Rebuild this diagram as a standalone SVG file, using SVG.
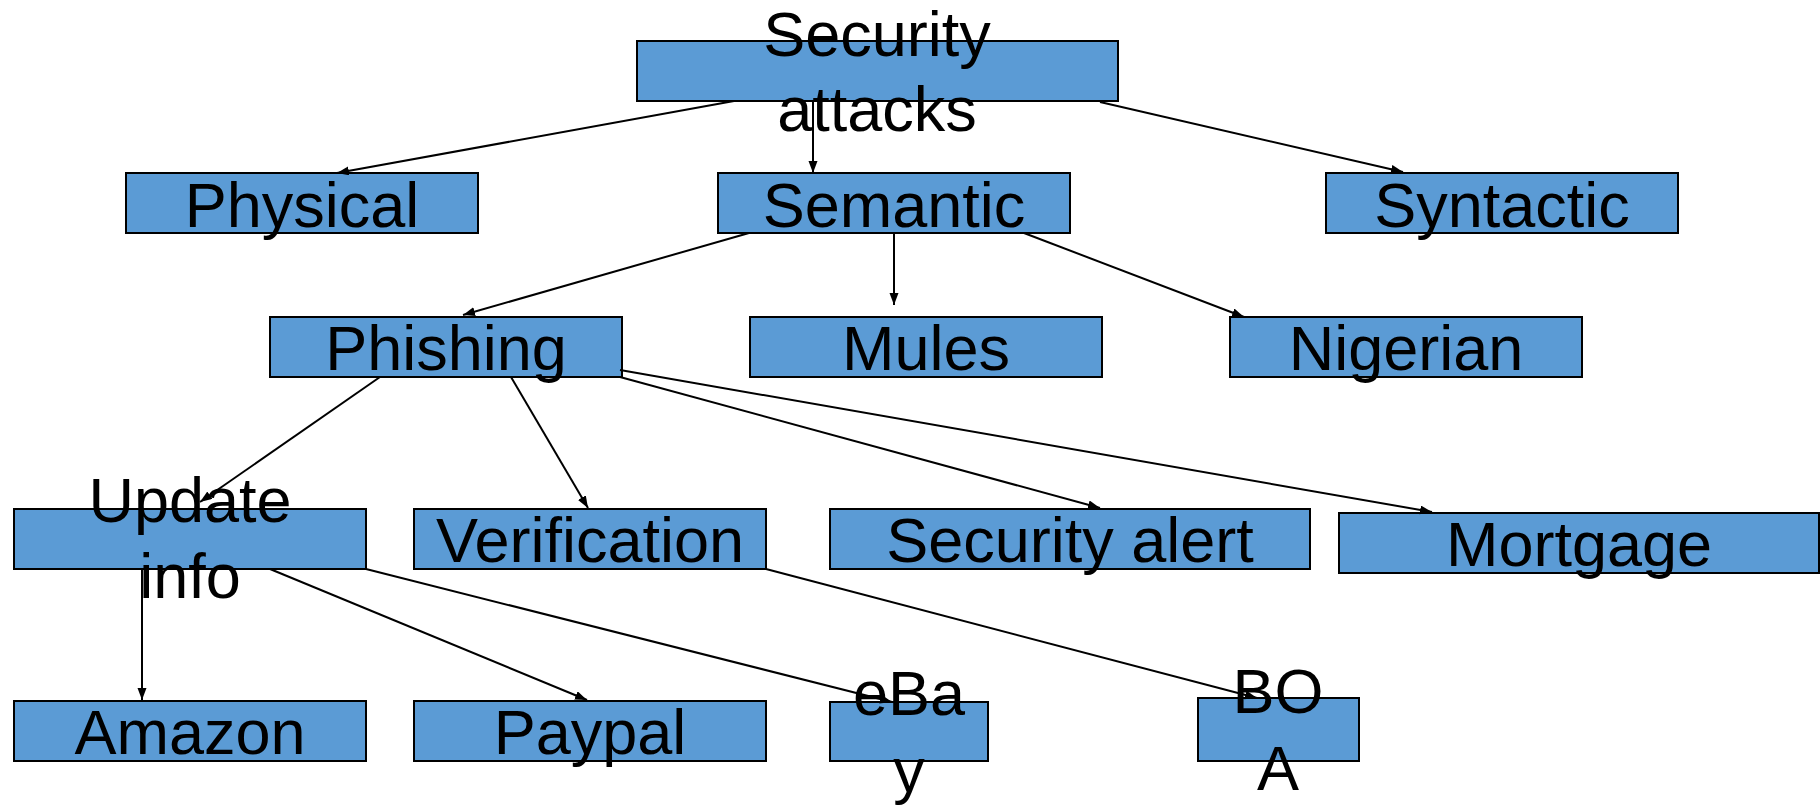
<svg xmlns="http://www.w3.org/2000/svg" width="1820" height="809" viewBox="0 0 1820 809">
<style>
.box{fill:#5B9BD5;stroke:#000;stroke-width:2}
.t{font-family:"Liberation Sans",Arial,sans-serif;font-size:63px;fill:#000;text-anchor:middle}
.c{stroke:#000;stroke-width:2;fill:none;marker-end:url(#ah)}
</style>
<defs>
<marker id="ah" markerUnits="userSpaceOnUse" markerWidth="14" markerHeight="10" refX="12" refY="4.5" orient="auto">
<path d="M0,0 L12,4.5 L0,9 z" fill="#000"/>
</marker>
</defs>
<rect width="1820" height="809" fill="#fff"/>
<g id="nodes-boxes">
<g id="n-security-attacks"><rect class="box" x="637" y="41" width="481" height="60"/></g>
<g id="n-physical"><rect class="box" x="126" y="173" width="352" height="60"/></g>
<g id="n-semantic"><rect class="box" x="718" y="173" width="352" height="60"/></g>
<g id="n-syntactic"><rect class="box" x="1326" y="173" width="352" height="60"/></g>
<g id="n-phishing"><rect class="box" x="270" y="317" width="352" height="60"/></g>
<g id="n-mules"><rect class="box" x="750" y="317" width="352" height="60"/></g>
<g id="n-nigerian"><rect class="box" x="1230" y="317" width="352" height="60"/></g>
<g id="n-update-info"><rect class="box" x="14" y="509" width="352" height="60"/></g>
<g id="n-verification"><rect class="box" x="414" y="509" width="352" height="60"/></g>
<g id="n-security-alert"><rect class="box" x="830" y="509" width="480" height="60"/></g>
<g id="n-mortgage"><rect class="box" x="1339" y="513" width="480" height="60"/></g>
<g id="n-amazon"><rect class="box" x="14" y="701" width="352" height="60"/></g>
<g id="n-paypal"><rect class="box" x="414" y="701" width="352" height="60"/></g>
<g id="n-ebay"><rect class="box" x="830" y="702" width="158" height="59"/></g>
<g id="n-boa"><rect class="box" x="1198" y="698" width="161" height="63"/></g>
</g>
<g id="connectors">
<line class="c" x1="734" y1="101" x2="337" y2="173"/>
<line class="c" x1="813" y1="101" x2="813" y2="173"/>
<line class="c" x1="1100" y1="102" x2="1403" y2="172"/>
<line class="c" x1="749" y1="233" x2="463" y2="315"/>
<line class="c" x1="894" y1="233" x2="894" y2="305"/>
<line class="c" x1="1024" y1="233" x2="1244" y2="317"/>
<line class="c" x1="380" y1="377" x2="200" y2="502"/>
<line class="c" x1="511" y1="377" x2="588" y2="508"/>
<line class="c" x1="620" y1="377" x2="1100" y2="508"/>
<line class="c" x1="620" y1="370" x2="1432" y2="512"/>
<line class="c" x1="142" y1="569" x2="142" y2="700"/>
<line class="c" x1="270" y1="569" x2="587" y2="700"/>
<line class="c" x1="366" y1="569" x2="892" y2="702"/>
<line class="c" x1="766" y1="569" x2="1257" y2="698"/>
</g>
<g id="labels">
<text class="t" x="877" y="56">Security</text>
<text class="t" x="877" y="131">attacks</text>
<text class="t" x="302" y="227">Physical</text>
<text class="t" x="894" y="227">Semantic</text>
<text class="t" x="1502" y="227">Syntactic</text>
<text class="t" x="446" y="370">Phishing</text>
<text class="t" x="926" y="370">Mules</text>
<text class="t" x="1406" y="370">Nigerian</text>
<text class="t" x="190" y="522">Update</text>
<text class="t" x="190" y="598">info</text>
<text class="t" x="590" y="562">Verification</text>
<text class="t" x="1070" y="562">Security alert</text>
<text class="t" x="1579" y="566">Mortgage</text>
<text class="t" x="190" y="754">Amazon</text>
<text class="t" x="590" y="754">Paypal</text>
<text class="t" x="909" y="715">eBa</text>
<text class="t" x="909" y="792">y</text>
<text class="t" x="1278" y="713">BO</text>
<text class="t" x="1278" y="790">A</text>
</g>
</svg>
